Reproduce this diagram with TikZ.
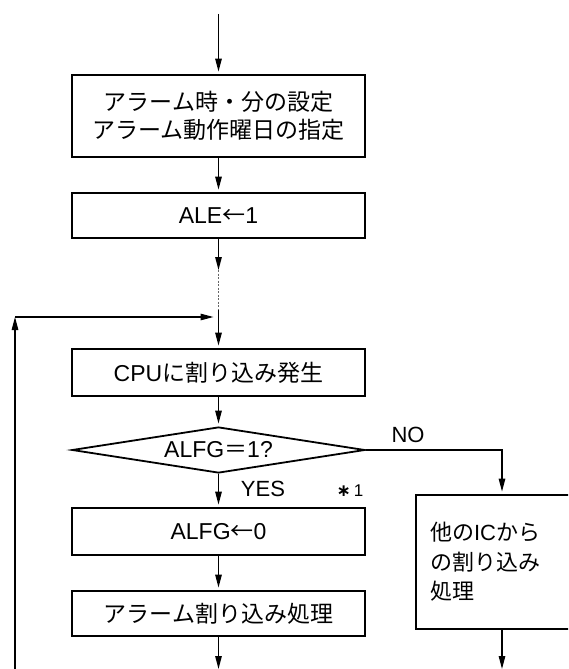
\documentclass[tikz,border=0pt]{standalone}
\usepackage{fontspec}
\setmainfont{Liberation Sans}
\newfontfamily\cjk{Noto Sans CJK JP}
\newfontfamily\dvs{DejaVu Sans}
\usetikzlibrary{shapes.geometric,arrows.meta}
\newcommand\jp[1]{{\cjk #1}}
\begin{document}
\begin{tikzpicture}[x=1pt,y=-1pt,
  box/.style={draw, line width=1.8pt, minimum width=293pt, inner sep=0pt,
    font=\fontsize{23}{28}\selectfont, align=center},
  conn/.style={line width=1.3pt, -{Triangle[length=13pt,width=6.5pt]}, shorten >=2.5pt},
  lbl/.style={font=\fontsize{22}{26}\selectfont, inner sep=0pt}]
\useasboundingbox (0,0) rectangle (568,669);
\clip (0,0) rectangle (568,669);
% boxes
\node[box, minimum height=82pt] (b1) at (218.5,116) {\jp{アラーム時・分の設定}\\\jp{アラーム動作曜日の指定}};
\node[box, minimum height=45pt] (b2) at (218.5,215.5) {ALE\jp{←}1};
\node[box, minimum height=47pt] (b3) at (218.5,372.5) {CPU\jp{に割り込み発生}};
\node[diamond, draw, line width=1.8pt, minimum width=293pt, minimum height=46pt,
  inner sep=0pt, aspect=6.4, font=\fontsize{23}{28}\selectfont] (d) at (218.5,450) {ALFG\jp{＝}1?};
\node[box, minimum height=47pt] (b4) at (218.5,531.5) {ALFG\jp{←}0};
\node[box, minimum height=45pt] (b5) at (218.5,613.5) {\jp{アラーム割り込み処理}};
\node[box, minimum width=172pt, minimum height=134pt, text width=144pt, align=left,
  font=\fontsize{22}{29.5}\selectfont] (b6) at (502,562)
  {\jp{他の}IC\jp{から}\\\jp{の割り込み}\\\jp{処理}};
% labels
\node[lbl] (no) at (408,435) {NO};
\node[lbl] (yes) at (263,489) {YES};
\node[lbl, font=\fontsize{17}{19}\selectfont] (n1) at (350,491) {{\dvs\bfseries ∗}\,1};
% coordinates
\coordinate (top) at (218.5,14);
\coordinate (d1) at (218.5,270);
\coordinate (d2) at (218.5,310);
\coordinate (lb) at (15,680);
\coordinate (lc) at (15,317);
\coordinate (lj) at (218.5,317);
\coordinate (e5) at (218.5,669);
\coordinate (e6) at (502,669);
% connectors
\draw[conn] (top) -- (b1);
\draw[conn] (b1) -- (b2);
\draw[conn, shorten >=0pt] (b2) -- (d1);
\draw[black!60, line width=1.4pt, dash pattern=on 2pt off 1.5pt] (d1) -- (d2);
\draw[conn] (d2) -- (b3);
\draw[conn, shorten >=0pt] (lb) -- (lc);
\draw[conn, shorten >=5pt] (lc) -- (lj);
\draw[conn] (b3) -- (d);
\draw[conn] (d) -- (b4);
\draw[conn] (d.east) -| (b6.north);
\draw[conn] (b4) -- (b5);
\draw[conn, shorten >=0pt] (b5) -- (e5);
\draw[conn, shorten >=0pt] (b6) -- (e6);
\end{tikzpicture}
\end{document}
